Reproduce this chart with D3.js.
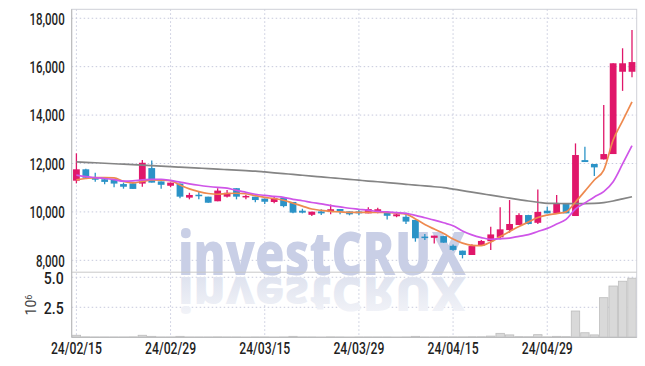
<!DOCTYPE html>
<html lang="en">
<head>
<meta charset="UTF-8">
<title>investCRUX candles</title>
<script src="https://d3js.org/d3.v7.min.js"></script>
<style>
  body { margin: 0; background: #fff; }
  .grid line { stroke: #c6c9dc; stroke-dasharray: 1.5,2.5; }
  .tick text { font-family: Roboto, sans-serif; font-weight: 500; font-size: 16px; fill: #1e1e1e; }
</style>
</head>
<body>
<svg width="645" height="366"></svg>
<script>
// trading days
const dates = ["24/02/15","24/02/16","24/02/19","24/02/20","24/02/21","24/02/22","24/02/23","24/02/26","24/02/27","24/02/28",
  "24/02/29","24/03/04","24/03/05","24/03/06","24/03/07","24/03/08","24/03/11","24/03/12","24/03/13","24/03/14",
  "24/03/15","24/03/18","24/03/19","24/03/20","24/03/21","24/03/22","24/03/25","24/03/26","24/03/27","24/03/28",
  "24/03/29","24/04/01","24/04/02","24/04/03","24/04/04","24/04/05","24/04/08","24/04/09","24/04/11","24/04/12",
  "24/04/15","24/04/16","24/04/17","24/04/18","24/04/19","24/04/22","24/04/23","24/04/24","24/04/25","24/04/26",
  "24/04/29","24/04/30","24/05/02","24/05/03","24/05/07","24/05/08","24/05/09","24/05/10","24/05/13","24/05/14"];

const open = [11290,11760,11430,11350,11350,11150,11180,11170,11810,11260, 11080,11170,10590,10710,10630,10440,10630,10980,10600,10630,
  10550,10410,10590,10410,10050,9880,10020,10020,10120,10020, 10020,9940,10000,9970,9820,9800,9670,8980,8930,9000,
  8600,8400,8220,8600,8790,8950,9250,9460,9870,9550, 10050,9940,10360,9830,12140,11980,12170,12390,15790,15790];
const high = [12420,11780,11620,11430,11350,11210,11210,12140,12120,11260, 11210,11170,10790,10820,10630,10980,10900,10980,10710,10630,
  10550,10630,10590,10410,10130,10010,10110,10310,10120,10020, 10110,10190,10170,9970,10000,9970,9670,9090,9020,9000,
  8650,8400,8660,8840,9390,10190,10490,9940,9880,10930, 10210,10700,10360,12830,12690,11980,14420,16140,16760,17520];
const low = [11180,11380,11250,11140,11020,10960,10950,11040,11210,10960, 11020,10560,10520,10520,10380,10440,10600,10520,10520,10400,
  10330,10360,10190,9940,9940,9830,9870,9900,9900,9860, 9860,9940,9940,9690,9780,9500,8770,8840,8700,8730,
  8400,8080,8220,8600,8430,8870,9140,9460,9480,9500, 9940,9940,9940,9830,12060,11480,12170,12390,15000,15560];
const close = [11760,11410,11330,11240,11170,11040,10950,12030,11210,11120, 11210,10630,10700,10660,10380,10880,10790,10630,10660,10490,
  10420,10570,10240,9970,9970,10010,9940,10110,10010,9900, 9940,10120,10110,9840,9900,9600,8910,8920,9020,8730,
  8430,8220,8590,8800,9070,9280,9500,9870,9500,10000, 9940,10360,9940,12350,12060,11840,12390,16140,16140,16190];

// volume, millions of shares
const volume = [0.17,0.03,0.02,0.02,0.02,0.02,0.03,0.17,0.08,0.02, 0.02,0.08,0.02,0.02,0.02,0.03,0.02,0.02,0.01,0.02,
  0.02,0.01,0.02,0.08,0.02,0.02,0.01,0.03,0.02,0.01, 0.02,0.02,0.02,0.02,0.01,0.02,0.08,0.02,0.02,0.03,
  0.03,0.03,0.04,0.04,0.10,0.33,0.20,0.05,0.04,0.22, 0.03,0.08,0.05,2.19,0.38,0.20,3.30,4.27,4.67,4.92];

// moving averages
const maShort = [11320,11380,11420,11420,11410,11260,11200,11260,11320,11310, 11290,11110,10950,10840,10760,10730,10760,10770,10750,10670,
  10600,10550,10480,10360,10240,10120,10060,10020,10000,9980, 9980,9980,9980,9975,9950,9910,9710,9480,9290,9110,
  8880,8710,8620,8610,8760,8980,9190,9400,9580,9770, 9870,9930,10000,10410,10860,11320,11730,12970,13760,14550];
const maMid = [11520,11460,11420,11380,11330,11270,11280,11320,11340,11350, 11300,11230,11160,11100,11050,11010,10980,10890,10810,10730,
  10680,10640,10600,10520,10460,10390,10330,10260,10210,10150, 10110,10070,10020,10000,9970,9940,9860,9760,9660,9550,
  9430,9210,9050,8940,8870,8890,8920,8990,9060,9190, 9320,9500,9690,10120,10370,10620,10840,11250,11980,12740];
const maLong = [12070,12050,12030,12010,11990,11970,11950,11930,11910,11890, 11870,11850,11830,11810,11790,11765,11745,11725,11705,11685,
  11650,11615,11580,11550,11515,11480,11445,11410,11380,11345, 11310,11275,11245,11210,11175,11140,11105,11075,11040,11005,
  10942,10880,10815,10755,10690,10628,10570,10510,10450,10400, 10355,10350,10345,10345,10345,10350,10380,10450,10540,10628];

const priceTicks = [8000,10000,12000,14000,16000,18000];
const volTicks = [2.5, 5.0];
const dateTicks = ["24/02/15","24/02/29","24/03/15","24/03/29","24/04/15","24/04/29"];

const svg = d3.select("svg");
const pLeft = 71.7, pRight = 636.7, pTop = 9.3, pSplit = 272.2, pBottom = 337.3;

const x = d3.scaleBand().domain(dates).range([pLeft, pRight]).padding(0);
const y = d3.scaleLinear().domain([7530, 18370]).range([pSplit - 0.5, pTop]);
const yv = d3.scaleLinear().domain([0, 5.38]).range([pBottom, pSplit + 0.5]);
const cx = d => x(d) + x.bandwidth() / 2;

// grid
const grid = svg.append("g").attr("class", "grid");
grid.selectAll(".h").data(priceTicks).enter().append("line")
  .attr("x1", pLeft).attr("x2", pRight).attr("y1", d => y(d)).attr("y2", d => y(d));
grid.selectAll(".hv").data(volTicks).enter().append("line")
  .attr("x1", pLeft).attr("x2", pRight).attr("y1", d => yv(d)).attr("y2", d => yv(d));
grid.selectAll(".v").data(dateTicks).enter().append("line")
  .attr("x1", cx).attr("x2", cx).attr("y1", pTop).attr("y2", pBottom);

// watermark + its fading reflection below the baseline
const grad = svg.append("defs").append("linearGradient").attr("id", "fade")
  .attr("x1", 0).attr("y1", 0).attr("x2", 0).attr("y2", 1);
grad.append("stop").attr("offset", "0.15").attr("stop-color", "#f4f5f9");
grad.append("stop").attr("offset", "0.85").attr("stop-color", "#dde1ee");

const wm = svg.append("g").style("font-family", "'Open Sans', sans-serif").style("font-weight", 800).style("font-size", "60px");
wm.append("text").attr("x", 178).attr("y", 275).attr("textLength", 288).attr("lengthAdjust", "spacingAndGlyphs")
  .attr("fill", "#c9cfe6").text("investCRUX");
wm.append("text").attr("x", 178).attr("y", 0).attr("textLength", 288).attr("lengthAdjust", "spacingAndGlyphs")
  .attr("fill", "url(#fade)").attr("transform", "translate(0,277) scale(1,-0.8)").text("investCRUX");

// volume bars
svg.append("g").selectAll("rect").data(dates).enter().append("rect")
  .attr("x", d => x(d) + 0.5).attr("width", x.bandwidth() - 1)
  .attr("y", (d, i) => yv(volume[i])).attr("height", (d, i) => pBottom - yv(volume[i]))
  .attr("fill", "#d9d9d9").attr("stroke", "#bdbdbd").attr("stroke-width", 0.8);

// frame
svg.append("rect").attr("x", pLeft).attr("y", pTop).attr("width", pRight - pLeft).attr("height", pBottom - pTop)
  .attr("fill", "none").attr("stroke", "#cfd0d8");
svg.append("line").attr("x1", pLeft).attr("x2", pRight).attr("y1", pSplit).attr("y2", pSplit).attr("stroke", "#c8c8c8");
svg.append("line").attr("x1", pLeft).attr("x2", pLeft).attr("y1", pTop).attr("y2", pBottom).attr("stroke", "#b8b8b8");
svg.append("line").attr("x1", pLeft).attr("x2", pRight).attr("y1", pBottom).attr("y2", pBottom).attr("stroke", "#b8b8b8");

// candles
const up = "#e0176a", down = "#2b93c7";
const bw = x.bandwidth() * 0.72;
const candle = svg.append("g").selectAll("g").data(dates).enter().append("g");
candle.append("line")
  .attr("x1", cx).attr("x2", cx)
  .attr("y1", (d, i) => y(high[i])).attr("y2", (d, i) => y(low[i]))
  .attr("stroke", (d, i) => close[i] >= open[i] ? up : down).attr("stroke-width", 1.3);
candle.append("rect")
  .attr("x", d => cx(d) - bw / 2).attr("width", bw)
  .attr("y", (d, i) => y(Math.max(open[i], close[i])))
  .attr("height", (d, i) => Math.max(1.5, Math.abs(y(open[i]) - y(close[i]))))
  .attr("fill", (d, i) => close[i] >= open[i] ? up : down);

// moving average lines
const line = d3.line().x((d, i) => cx(dates[i])).y(d => y(d)).curve(d3.curveMonotoneX);
[[maLong, "#858585"], [maShort, "#ee8a4f"], [maMid, "#cf55e8"]].forEach(([s, c]) => {
  svg.append("path").datum(s).attr("d", line).attr("fill", "none").attr("stroke", c).attr("stroke-width", 1.7);
});

// axes
const ya = svg.append("g").attr("transform", `translate(${pLeft},0)`)
  .call(d3.axisLeft(y).tickValues(priceTicks).tickSize(0).tickFormat(d3.format(",")));
ya.select(".domain").remove();
ya.selectAll("text").attr("x", 0).attr("dy", "0.36em").attr("transform", "translate(-7,0) scale(0.72,1)");

const va = svg.append("g").attr("transform", `translate(${pLeft},0)`)
  .call(d3.axisLeft(yv).tickValues(volTicks).tickSize(0).tickFormat(d3.format(".1f")));
va.select(".domain").remove();
va.selectAll("text").attr("x", 0).attr("dy", "0.36em").attr("transform", "translate(-8,0) scale(0.88,1)");

const xa = svg.append("g").attr("transform", `translate(0,${pBottom})`)
  .call(d3.axisBottom(x).tickValues(dateTicks).tickSize(0));
xa.select(".domain").remove();
xa.selectAll("text").attr("y", 0).attr("dy", 0).attr("transform", "translate(0,17) scale(0.76,1)");

// volume unit
const unit = svg.append("text").attr("transform", "translate(36,305) rotate(-90)")
  .attr("text-anchor", "middle").style("font-family", "Roboto, sans-serif").style("font-size", "14px").attr("fill", "#444");
unit.append("tspan").text("10");
unit.append("tspan").attr("dy", "-0.5em").style("font-size", "9px").text("6");
</script>
</body>
</html>
